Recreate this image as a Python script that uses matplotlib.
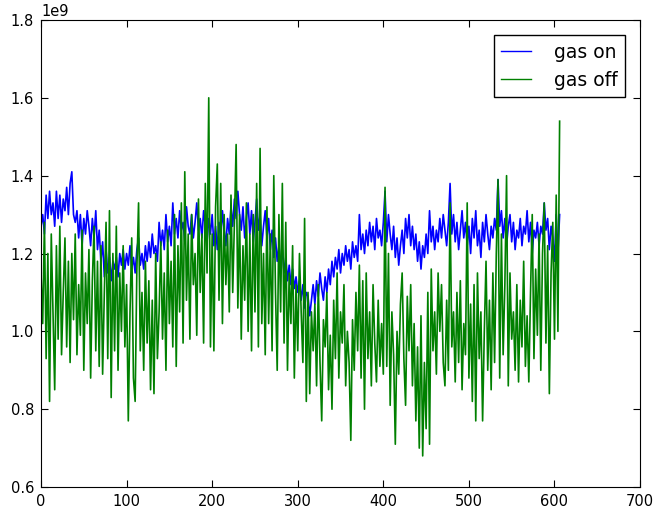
import numpy as np
import matplotlib
matplotlib.use("Agg")
import matplotlib.pyplot as plt

# values, one sample every 2 steps, in units of 1e9
step = 2

gas_on = [
    1.27, 1.30, 1.25, 1.35, 1.29, 1.36, 1.30, 1.33, 1.27, 1.36,
    1.29, 1.35, 1.28, 1.34, 1.31, 1.37, 1.30, 1.38, 1.41, 1.30,
    1.28, 1.31, 1.24, 1.30, 1.22, 1.29, 1.25, 1.31, 1.27, 1.22,
    1.29, 1.24, 1.31, 1.21, 1.26, 1.18, 1.23, 1.14, 1.21, 1.15,
    1.19, 1.13, 1.18, 1.16, 1.19, 1.14, 1.20, 1.17, 1.21, 1.16,
    1.20, 1.17, 1.22, 1.16, 1.19, 1.15, 1.21, 1.24, 1.17, 1.20,
    1.16, 1.22, 1.18, 1.23, 1.19, 1.25, 1.20, 1.22, 1.18, 1.28,
    1.22, 1.26, 1.21, 1.30, 1.23, 1.27, 1.22, 1.33, 1.25, 1.29,
    1.24, 1.31, 1.26, 1.28, 1.23, 1.32, 1.27, 1.25, 1.30, 1.24,
    1.28, 1.33, 1.26, 1.29, 1.24, 1.31, 1.27, 1.23, 1.29, 1.25,
    1.30, 1.22, 1.27, 1.21, 1.28, 1.24, 1.31, 1.26, 1.22, 1.29,
    1.25, 1.32, 1.27, 1.34, 1.29, 1.36, 1.30, 1.26, 1.32, 1.24,
    1.29, 1.33, 1.25, 1.31, 1.23, 1.28, 1.34, 1.26, 1.30, 1.22,
    1.27, 1.31, 1.24, 1.29, 1.21, 1.26, 1.19, 1.24, 1.18, 1.22,
    1.17, 1.21, 1.15, 1.19, 1.13, 1.17, 1.12, 1.16, 1.11, 1.14,
    1.10, 1.13, 1.08, 1.12, 1.06, 1.10, 1.09, 1.04, 1.08, 1.12,
    1.07, 1.13, 1.09, 1.15, 1.11, 1.08, 1.14, 1.10, 1.16, 1.12,
    1.18, 1.14, 1.19, 1.16, 1.21, 1.15, 1.20, 1.17, 1.22, 1.18,
    1.21, 1.16, 1.23, 1.19, 1.22, 1.18, 1.30, 1.21, 1.25, 1.20,
    1.26, 1.22, 1.28, 1.23, 1.27, 1.21, 1.29, 1.24, 1.26, 1.22,
    1.28, 1.36, 1.23, 1.30, 1.25, 1.21, 1.27, 1.19, 1.24, 1.17,
    1.22, 1.26, 1.20, 1.29, 1.24, 1.30, 1.22, 1.27, 1.21, 1.25,
    1.18, 1.23, 1.16, 1.22, 1.19, 1.25, 1.20, 1.31, 1.23, 1.27,
    1.21, 1.26, 1.23, 1.29, 1.24, 1.30, 1.26, 1.22, 1.28, 1.38,
    1.25, 1.30, 1.23, 1.28, 1.21, 1.26, 1.31, 1.24, 1.28, 1.22,
    1.27, 1.20, 1.29, 1.24, 1.31, 1.22, 1.26, 1.19, 1.28, 1.23,
    1.30, 1.25, 1.21, 1.27, 1.24, 1.29, 1.26, 1.39, 1.27, 1.31,
    1.24, 1.29, 1.22, 1.27, 1.30, 1.23, 1.28, 1.21, 1.26, 1.24,
    1.29, 1.22, 1.27, 1.25, 1.31, 1.23, 1.28, 1.20, 1.26, 1.24,
    1.28, 1.22, 1.27, 1.25, 1.33, 1.26, 1.29, 1.21, 1.27, 1.24,
    1.18, 1.30, 1.20, 1.30,
]

gas_off = [
    1.15, 1.02, 1.28, 0.93, 1.20, 0.82, 1.25, 1.05, 0.85, 1.22,
    0.98, 1.27, 0.94, 1.10, 1.24, 0.96, 1.18, 0.92, 1.20, 1.03,
    1.25, 0.94, 1.12, 0.99, 1.26, 0.90, 1.15, 1.02, 1.21, 0.88,
    1.13, 1.27, 0.95, 1.18, 0.91, 1.22, 0.89, 1.10, 1.28, 0.93,
    1.31, 0.83, 1.20, 0.95, 1.27, 0.90, 1.15, 1.00, 1.22, 0.96,
    1.12, 0.77, 1.05, 1.24, 0.88, 0.82, 1.16, 1.33, 0.95, 1.10,
    0.90, 1.18, 0.97, 1.13, 0.85, 1.08, 0.84, 1.20, 0.93, 1.05,
    1.23, 0.98, 1.15, 0.90, 1.26, 1.02, 1.18, 0.96, 1.30, 0.91,
    1.22, 1.05, 1.33, 0.97, 1.41, 1.08, 1.25, 0.98, 1.30, 1.12,
    1.20, 0.99, 1.34, 1.10, 1.25, 0.97, 1.38, 1.15, 1.60, 0.96,
    1.25, 0.95, 1.32, 1.43, 1.08, 1.38, 1.02, 1.30, 1.12, 1.25,
    1.05, 1.35, 1.10, 1.28, 1.48, 1.06, 1.30, 0.98, 1.22, 1.08,
    1.33, 1.00, 1.25, 0.95, 1.30, 1.05, 1.38, 0.96, 1.47, 1.02,
    1.20, 0.94, 1.32, 1.02, 1.25, 0.95, 1.40, 1.10, 0.90, 1.30,
    1.05, 1.38, 0.97, 1.28, 0.90, 1.15, 1.02, 1.22, 0.88, 1.12,
    0.95, 1.20, 1.05, 0.92, 1.29, 0.82, 1.10, 0.84, 1.05, 0.95,
    1.07, 0.86, 1.12, 0.92, 0.77, 1.03, 0.96, 1.10, 0.85, 0.99,
    0.80, 1.08, 0.93, 1.15, 0.88, 1.05, 0.97, 1.12, 0.86, 1.00,
    0.92, 0.72, 1.03, 0.90, 1.10, 0.95, 1.17, 0.88, 1.13, 0.80,
    1.15, 0.93, 1.05, 0.86, 1.12, 0.97, 0.87, 1.08, 0.91, 1.02,
    0.89, 1.37, 0.91, 1.20, 0.81, 1.05, 0.94, 0.71, 1.00, 0.89,
    1.07, 1.15, 0.93, 0.81, 1.09, 0.95, 1.12, 0.86, 1.02, 0.77,
    0.96, 0.70, 1.04, 0.68, 0.92, 0.75, 1.10, 0.71, 1.16, 0.95,
    1.05, 0.89, 1.15, 1.00, 1.12, 0.92, 0.86, 1.08, 0.90, 1.33,
    0.96, 1.05, 0.87, 1.10, 0.92, 1.13, 0.85, 1.02, 0.94, 1.33,
    0.88, 1.07, 0.82, 1.12, 0.77, 1.15, 0.93, 1.05, 0.77, 1.00,
    1.18, 0.90, 1.08, 0.85, 1.15, 0.92, 1.20, 1.39, 0.88, 1.25,
    0.94, 1.12, 1.40, 0.86, 1.15, 0.98, 1.05, 0.90, 1.12, 0.87,
    1.08, 0.96, 1.18, 0.91, 1.04, 0.87, 1.10, 1.30, 0.93, 1.16,
    0.99, 1.25, 0.90, 1.20, 1.33, 0.97, 1.22, 0.84, 1.15, 1.28,
    0.98, 1.35, 1.00, 1.54,
]

x_on = np.arange(len(gas_on)) * step
x_off = np.arange(len(gas_off)) * step

fig = plt.figure(figsize=(6.54, 5.09), dpi=100, facecolor='white')
ax = fig.add_axes([0.0627, 0.0432, 0.916, 0.9175])

ax.plot(x_on, np.array(gas_on) * 1e9, color='b', lw=1.2, label='gas on')
ax.plot(x_off, np.array(gas_off) * 1e9, color='g', lw=1.2, label='gas off')

ax.set_xlim(0, 700)
ax.set_ylim(0.6e9, 1.8e9)
ax.set_xticks(range(0, 701, 100))
ax.set_yticks(np.arange(0.6, 1.81, 0.2) * 1e9)
ax.tick_params(direction='in', top=True, right=True, length=5, labelsize=10.5, pad=5)
ax.yaxis.get_offset_text().set_fontsize(10.5)

leg = ax.legend(loc='upper right', fontsize=13.5, fancybox=False,
                edgecolor='black', framealpha=1, handlelength=1.6,
                handletextpad=1.2, borderaxespad=0.8)
leg.get_frame().set_linewidth(1.0)
for line in leg.get_lines():
    line.set_linewidth(1.0)

plt.savefig("out.png", dpi=100, facecolor='white')
